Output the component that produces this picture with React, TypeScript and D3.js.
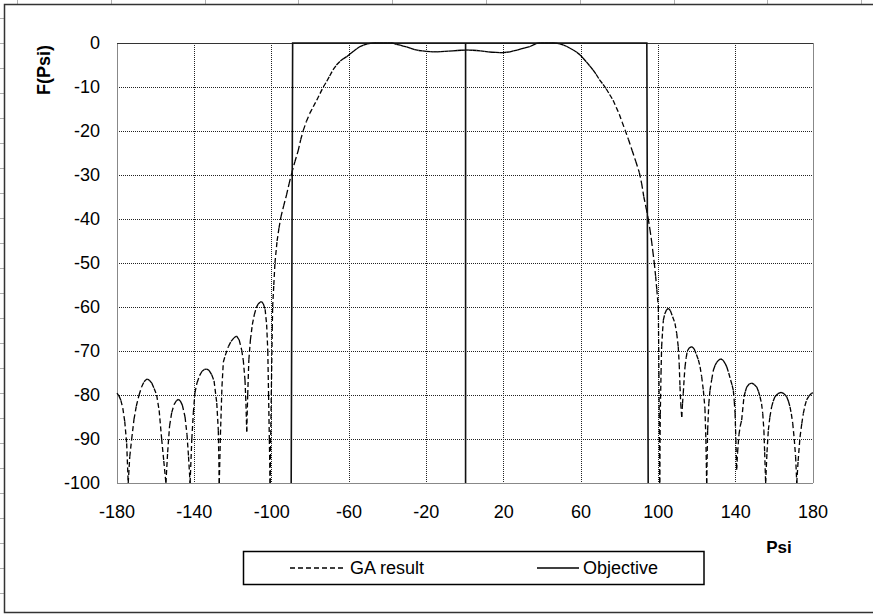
import React from 'react';
import * as d3 from 'd3';

const xTickValues = [-180, -140, -100, -60, -20, 20, 60, 100, 140, 180];
const yTickValues = [0, -10, -20, -30, -40, -50, -60, -70, -80, -90, -100];
const xAxisTitle = 'Psi';
const yAxisTitle = 'F(Psi)';
const seriesNames = ['GA result', 'Objective'];

const gaPsi = [
  -180, -179, -178, -177, -176, -175, -174.2, -173.4, -172.4, -171.2, -170, -168.6, -167.3, -166, -165, -164.3,
  -163.3, -162, -160.8, -159.5, -158.2, -156.9, -155.8, -154.7, -153.8, -152.8, -151.7, -150.5, -149.3, -148.3,
  -147.3, -146.2, -144.8, -143.8, -143, -142.2, -141.3, -140.5, -139.7, -138.6, -137.3, -136, -134.8, -133.6,
  -132.4, -131, -129.8, -128.4, -127.6, -127.1, -126.5, -125.7, -125, -124, -122.4, -121, -119.5, -118.1,
  -116.8, -115.5, -114.7, -113.8, -113.3, -112.9, -112.4, -111.8, -111, -110, -109, -108, -107, -106, -105.2,
  -104.3, -103.4, -102.6, -102, -101.6, -101.2, -100.8, -100.2, -99.7, -99.5, -98.9, -98.3, -97.2, -96.2, -95.2,
  -93.8, -92.3, -91, -89.6, -88, -86.3, -85, -83.6, -82, -80.3, -78.5, -76.7, -75, -73.3, -71.5, -70, -68.3,
  -66.5, -64.5, -63, -61.2, -59.5, -57.5, -56, -54.3, -52.5, -50.5, -48.2, -46, -44, -42, -40, -38.5, -37.2,
  -35.5, -33.5, -32, -30.2, -28, -26, -24, -22, -20, -18, -16.5, -14.5, -12.5, -10.5, -8.5, -6.2, -4, -2, 0,
  2, 4, 6, 8, 10, 12, 14, 16, 18, 19.7, 21.5, 23.3, 25, 27, 29, 31, 33.6, 35.2, 37, 39, 41, 43, 45, 47, 49.1,
  51, 52.7, 54.3, 56, 57.8, 59.5, 61, 62.8, 64.5, 66.2, 67.8, 69.5, 71.4, 73, 74.8, 76.6, 78.2, 79.8, 81.3,
  82.8, 84.6, 86.5, 88.4, 90.2, 91.4, 92.5, 93.7, 94.8, 95.7, 96.5, 97.2, 97.9, 98.6, 99.2, 100, 100.3, 100.7,
  101, 101.4, 101.7, 102.2, 102.6, 103.3, 104.2, 105.2, 106.2, 107.4, 108.6, 109.5, 110.3, 110.8, 111.2, 111.6,
  112.1, 112.5, 112.9, 113.4, 113.8, 114.4, 115, 116, 117.3, 118.5, 119.7, 120.7, 121.6, 122.4, 123.3, 124.1,
  124.6, 125, 125.5, 126.1, 126.7, 127.6, 128.5, 129.4, 130.2, 131.3, 132.3, 133.5, 134.5, 135.4, 136.4, 137.4,
  138.2, 138.8, 139.3, 139.7, 140.1, 140.5, 141, 141.7, 142.4, 143.1, 144.3, 145, 145.7, 147, 148.3, 149.6,
  150.9, 151.8, 152.6, 153.4, 154, 154.6, 155, 155.5, 156.2, 156.9, 157.7, 158.6, 159.4, 160.3, 161.8, 163.5,
  165, 166.4, 167.3, 168.1, 168.8, 169.5, 170.3, 171, 171.6, 172.3, 173.3, 174.2, 175, 175.8, 176.7, 177.8,
  179.3, 180,
];

const gaDb = [
  -79.6, -80.2, -81.2, -83, -86, -91, -100, -94, -90, -85.5, -82.5, -80, -78.2, -77, -76.5, -76.4,
  -76.6, -77.3, -78.5, -80, -83.5, -90, -95, -100, -93, -87, -84, -82.2, -81.3, -81,
  -81.3, -82.3, -85, -89, -94, -100, -90, -84, -79.5, -77.2, -75.6, -74.6, -74.2, -74.1,
  -74.4, -75.4, -76.8, -81.8, -88, -100, -89, -78, -72.5, -71, -69, -67.8, -67, -66.6,
  -67.5, -69.8, -72, -76.6, -82, -88.3, -80, -72, -67.5, -64, -61.8, -60.2, -59.3, -58.9, -58.8,
  -59.3, -60.5, -64, -70, -80, -90, -100, -80, -65, -60, -55, -50, -45, -42, -39.5,
  -37, -34.5, -32, -29.5, -27, -24.5, -22, -19.8, -17.8, -16, -14.5, -13, -11.5, -10, -8.7, -7.5, -6.1,
  -5, -4.1, -3.6, -3.1, -2.5, -1.8, -1.3, -0.8, -0.5, -0.2, -0.05, 0, 0, 0, 0, 0, -0.05,
  -0.3, -0.5, -0.7, -0.9, -1.2, -1.5, -1.7, -1.8, -1.9, -1.95, -2, -2, -1.95, -1.9, -1.85, -1.8, -1.7, -1.65, -1.6,
  -1.6, -1.65, -1.7, -1.8, -1.9, -2, -2.1, -2.15, -2.2, -2.2, -2.1, -2, -1.8, -1.6, -1.35, -1.1, -0.8, -0.5, -0.1, 0, 0, 0, 0, -0.05, -0.2,
  -0.5, -0.8, -1.2, -1.6, -2.1, -2.7, -3.4, -4.3, -5.2, -6.1, -7.1, -8.3, -9.4, -10.4, -11.7, -13, -14.6, -16.2, -18,
  -19.8, -22, -24.5, -27, -29.5, -32, -35, -37.5, -40, -42.5, -45, -47.5, -50, -53, -56, -60, -75, -100,
  -84.5, -75, -69, -65.5, -63, -61.6, -60.7, -60.3, -60.8, -62.2, -63.7, -66, -69, -73, -78, -82,
  -85, -82, -79.6, -76, -73.6, -71.5, -70, -69.3, -69, -69.5, -70.8, -72, -73.6, -75.8, -79, -83,
  -90, -100, -88, -82, -79, -76.5, -74.3, -73.2, -72.6, -72, -71.8, -72.1, -72.8, -73.6, -75, -76.6,
  -77.8, -79, -81.5, -84.2, -90, -97, -93, -89, -87, -85.7, -80.4, -79.2, -78.2, -77.5, -77.3, -77.6,
  -78.2, -79.2, -80.4, -82, -84.2, -88, -93, -100, -93, -88, -85, -82.7, -81.4, -80.4, -79.7, -79.4,
  -79.7, -80.4, -81.4, -82.7, -84.3, -86.4, -90, -94, -100, -95, -89.5, -86.5, -84.2, -82.5, -81.1, -80.3,
  -79.6, -79.5,
];

const objPsi = [-89.9, -89.15, 0.3, 0.3, 0.3, 94.05, 94.75];
const objDb = [-100, 0, 0, -100, 0, 0, -100];

const FONT = '"Liberation Sans", Arial, Helvetica, sans-serif';

export default function App() {
  const W = 873;
  const H = 615;
  const x = d3.scaleLinear().domain([-180, 180]).range([117, 813]);
  const y = d3.scaleLinear().domain([-100, 0]).range([483, 43]);
  const [x0, x1] = x.range();
  const [yb, yt] = y.range();

  const ga = gaPsi.map((p, i) => [p, gaDb[i]] as [number, number]);
  const obj = objPsi.map((p, i) => [p, objDb[i]] as [number, number]);
  const objLine = d3.line<[number, number]>().x((d) => x(d[0])).y((d) => y(d[1]));

  const topRuler = d3.range(10).map((k) => 17 + k * 93.8);
  const leftRuler = d3.range(24).map((k) => 17.5 + k * 25);

  return (
    <svg width={W} height={H} style={{ position: 'absolute', left: 0, top: 0, background: '#fff' }} fontFamily={FONT}>
      <defs>
        <clipPath id="plotclip">
          <rect x={x0 - 1} y={yt - 1} width={x1 - x0 + 2} height={yb - yt + 2} />
        </clipPath>
      </defs>
      <rect x={0} y={0} width={W} height={H} fill="#fff" />
      {/* rulers */}
      {topRuler.map((px, i) => (
        <line key={'tr' + i} x1={Math.round(px) + 0.5} x2={Math.round(px) + 0.5} y1={0} y2={4} stroke="#b0b0b0" />
      ))}
      {leftRuler.map((py, i) => (
        <line key={'lr' + i} y1={Math.round(py) + 0.5} y2={Math.round(py) + 0.5} x1={0} x2={4} stroke="#b0b0b0" />
      ))}
      {/* outer frame */}
      <rect x={4.5} y={4.5} width={W + 10} height={608} fill="none" stroke="#333" strokeWidth={1.5} />

      {/* grid */}
      <g shapeRendering="crispEdges">
        {yTickValues
          .filter((v) => v !== 0 && v !== -100)
          .map((v) => (
            <line key={'gy' + v} x1={x0} x2={x1} y1={y(v)} y2={y(v)} stroke="#222" strokeDasharray="1,1" />
          ))}
        {xTickValues
          .filter((v) => v !== -180 && v !== 180)
          .map((v) => (
            <line key={'gx' + v} x1={x(v)} x2={x(v)} y1={yt} y2={yb} stroke="#222" strokeDasharray="1,1" />
          ))}
        {/* plot border */}
        <line x1={x0} x2={x0} y1={yt} y2={yb} stroke="#888" />
        <line x1={x1} x2={x1} y1={yt} y2={yb} stroke="#888" />
        <line x1={x0} x2={x1} y1={yb} y2={yb} stroke="#888" />
        <line x1={x0} x2={x1} y1={yt} y2={yt} stroke="#333" />
      </g>

      {/* GA result: each segment dashed separately */}
      <g clipPath="url(#plotclip)">
        {ga.slice(1).map((d, i) => {
          const p = ga[i];
          return (
            <line
              key={'ga' + i}
              x1={x(p[0])}
              y1={y(p[1])}
              x2={x(d[0])}
              y2={y(d[1])}
              stroke="#000"
              strokeWidth={1.3}
              strokeDasharray="5,3"
            />
          );
        })}
        <path d={objLine(obj) || ''} fill="none" stroke="#111" strokeWidth={1.6} />
      </g>

      {/* y tick labels */}
      {yTickValues.map((v) => (
        <text key={'yl' + v} x={100} y={y(v)} dy="0.35em" textAnchor="end" fontSize={18} fill="#000">
          {v}
        </text>
      ))}
      {/* x tick labels */}
      {xTickValues.map((v) => (
        <text key={'xl' + v} x={x(v)} y={517.5} textAnchor="middle" fontSize={18} fill="#000">
          {v}
        </text>
      ))}

      {/* axis titles */}
      <text x={779} y={553} textAnchor="middle" fontSize={17} fontWeight="bold" fill="#000">
        {xAxisTitle}
      </text>
      <text transform="translate(50,70) rotate(-90)" textAnchor="middle" fontSize={18} fontWeight="bold" fill="#000">
        {yAxisTitle}
      </text>

      {/* legend */}
      <rect x={243.5} y={551.5} width={460.5} height={33} fill="#fff" stroke="#000" strokeWidth={1.5} />
      <line x1={290} x2={346} y1={568} y2={568} stroke="#000" strokeWidth={1.3} strokeDasharray="5,3" />
      <text x={350} y={574} fontSize={18} fill="#000">
        {seriesNames[0]}
      </text>
      <line x1={537} x2={579} y1={568} y2={568} stroke="#000" strokeWidth={1.6} />
      <text x={583} y={574} fontSize={18} fill="#000">
        {seriesNames[1]}
      </text>
    </svg>
  );
}
